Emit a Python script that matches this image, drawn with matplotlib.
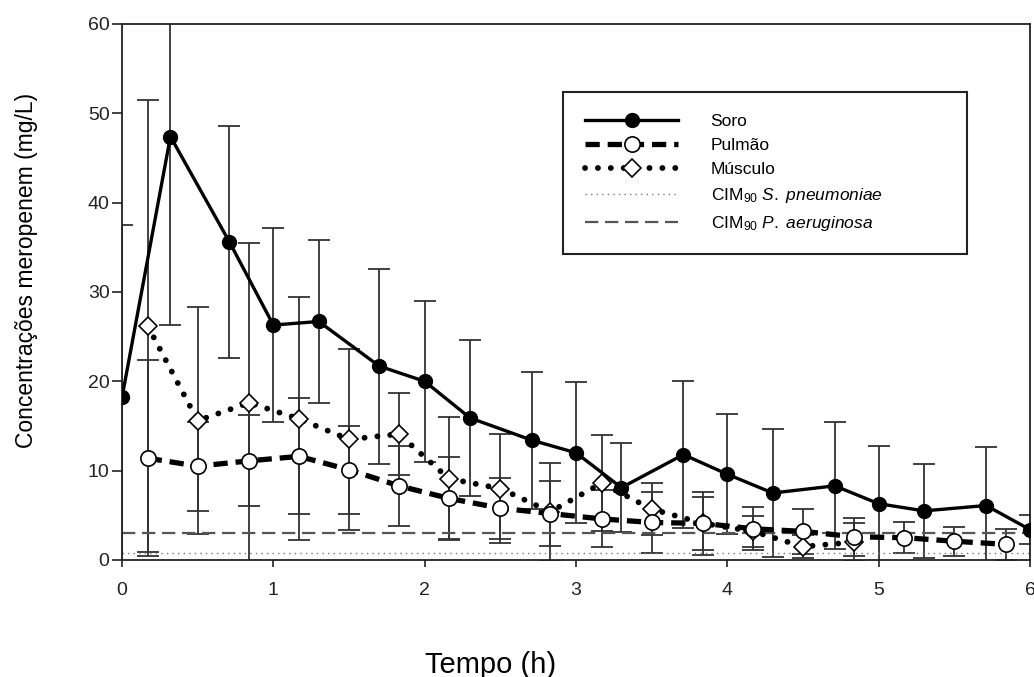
import numpy as np
import matplotlib
matplotlib.use("Agg")
import matplotlib.pyplot as plt

plt.rcParams['font.family'] = ['Liberation Sans', 'DejaVu Sans']
plt.rcParams['mathtext.fontset'] = 'custom'
plt.rcParams['mathtext.rm'] = 'Liberation Sans'
plt.rcParams['mathtext.it'] = 'Liberation Sans:italic'

# valores (tempo em h, concentração em mg/L)
soro_t = [0, 0.32, 0.71, 1.0, 1.3, 1.7, 2.0, 2.3, 2.71, 3.0, 3.3, 3.71, 4.0, 4.3, 4.71, 5.0, 5.3, 5.71, 6.0]
soro_c = [18.2, 47.4, 35.6, 26.3, 26.7, 21.7, 20.0, 15.9, 13.4, 12.0, 8.1, 11.8, 9.6, 7.5, 8.3, 6.3, 5.5, 6.1, 3.4]
soro_dp = [19.3, 21.1, 13.0, 10.9, 9.1, 10.9, 9.0, 8.7, 7.7, 7.9, 5.0, 8.2, 6.7, 7.2, 7.1, 6.5, 5.3, 6.6, 1.6]

pulmao_t = [0.17, 0.5, 0.84, 1.17, 1.5, 1.83, 2.16, 2.5, 2.83, 3.17, 3.5, 3.84, 4.17, 4.5, 4.84, 5.17, 5.5, 5.84]
pulmao_c = [11.4, 10.5, 11.1, 11.6, 10.1, 8.3, 6.9, 5.8, 5.2, 4.6, 4.2, 4.1, 3.5, 3.2, 2.6, 2.5, 2.1, 1.75]
pulmao_dp = [11.0, 5.0, 5.1, 6.5, 4.9, 4.5, 4.6, 3.4, 3.6, 3.2, 3.45, 3.5, 2.4, 2.5, 2.1, 1.7, 1.6, 1.7]

musculo_t = [0.17, 0.5, 0.84, 1.17, 1.5, 1.83, 2.16, 2.5, 2.83, 3.17, 3.5, 3.84, 4.17, 4.5, 4.84]
musculo_c = [26.2, 15.6, 17.6, 15.8, 13.5, 14.1, 9.1, 8.0, 5.4, 8.6, 5.7, 4.1, 3.2, 1.5, 2.0]
musculo_dp = [25.3, 12.7, 17.9, 13.6, 10.1, 4.6, 6.9, 6.1, 5.5, 5.4, 2.9, 3.0, 1.7, 1.3, 2.1]

cim_spn = 0.8   # CIM90 S. pneumoniae
cim_pae = 3.0   # CIM90 P. aeruginosa

rotulos = ['Soro', 'Pulmão', 'Músculo',
           r'CIM$_{90}$ $\mathit{S.\ pneumoniae}$',
           r'CIM$_{90}$ $\mathit{P.\ aeruginosa}$']

fig = plt.figure(figsize=(10.34, 6.77), dpi=100)
ax = fig.add_axes([122 / 1034, 117 / 677, 908 / 1034, 536 / 677])

# barras de erro
eb = dict(fmt='none', ecolor='#333333', elinewidth=1.3, capsize=8, capthick=1.3, zorder=1)
ax.errorbar(soro_t, soro_c, yerr=soro_dp, **eb)
ax.errorbar(pulmao_t, pulmao_c, yerr=pulmao_dp, **eb)
ax.errorbar(musculo_t, musculo_c, yerr=musculo_dp, **eb)

# linhas de CIM
l_spn = ax.axhline(cim_spn, color='#777777', lw=1.0, linestyle=(0, (1, 3)), zorder=1.5)
l_pae = ax.axhline(cim_pae, color='#555555', lw=1.6, linestyle=(0, (6, 3)), zorder=1.5)

l_mus, = ax.plot(musculo_t, musculo_c, color='black', lw=4.2, linestyle=(0, (0.01, 2.2)),
                 dash_capstyle='round', marker='D', ms=9, mfc='white', mec='black', mew=1.2, zorder=3)
l_pul, = ax.plot(pulmao_t, pulmao_c, color='black', lw=3.8, linestyle=(0, (2.7, 1.5)),
                 marker='o', ms=11, mfc='white', mec='black', mew=1.2, zorder=3)
l_sor, = ax.plot(soro_t, soro_c, color='black', lw=2.4, marker='o', ms=10,
                 mfc='black', mec='black', zorder=4)

ax.set_xlim(0, 6)
ax.set_ylim(0, 60)
ax.set_xticks(range(0, 7))
ax.set_yticks(range(0, 61, 10))
ax.tick_params(axis='x', direction='out', length=5, width=1.2, pad=11, labelsize=14, colors='#222222')
ax.tick_params(axis='y', direction='out', length=7, width=1.2, pad=2, labelsize=14, colors='#222222')
for s in ax.spines.values():
    s.set_linewidth(1.3)
    s.set_color('#222222')

leg = ax.legend([l_sor, l_pul, l_mus, l_spn, l_pae], rotulos,
                loc='upper left', bbox_to_anchor=(0.486, 0.571, 0.445, 0.302), mode='expand',
                numpoints=1, fontsize=12.5, handlelength=5.4, handletextpad=1.85,
                labelspacing=0.52, borderpad=1.23, borderaxespad=0,
                fancybox=False, frameon=True, edgecolor='#222222', framealpha=1)
leg.get_frame().set_linewidth(1.5)

fig.text(27 / 1034, 1 - 270 / 677, 'Concentrações meropenem (mg/L)', rotation=90,
         ha='center', va='center', fontsize=16.5)
fig.text(491 / 1034, 4 / 677, 'Tempo (h)', ha='center', va='baseline', fontsize=21)

fig.savefig('out.png', dpi=100)
